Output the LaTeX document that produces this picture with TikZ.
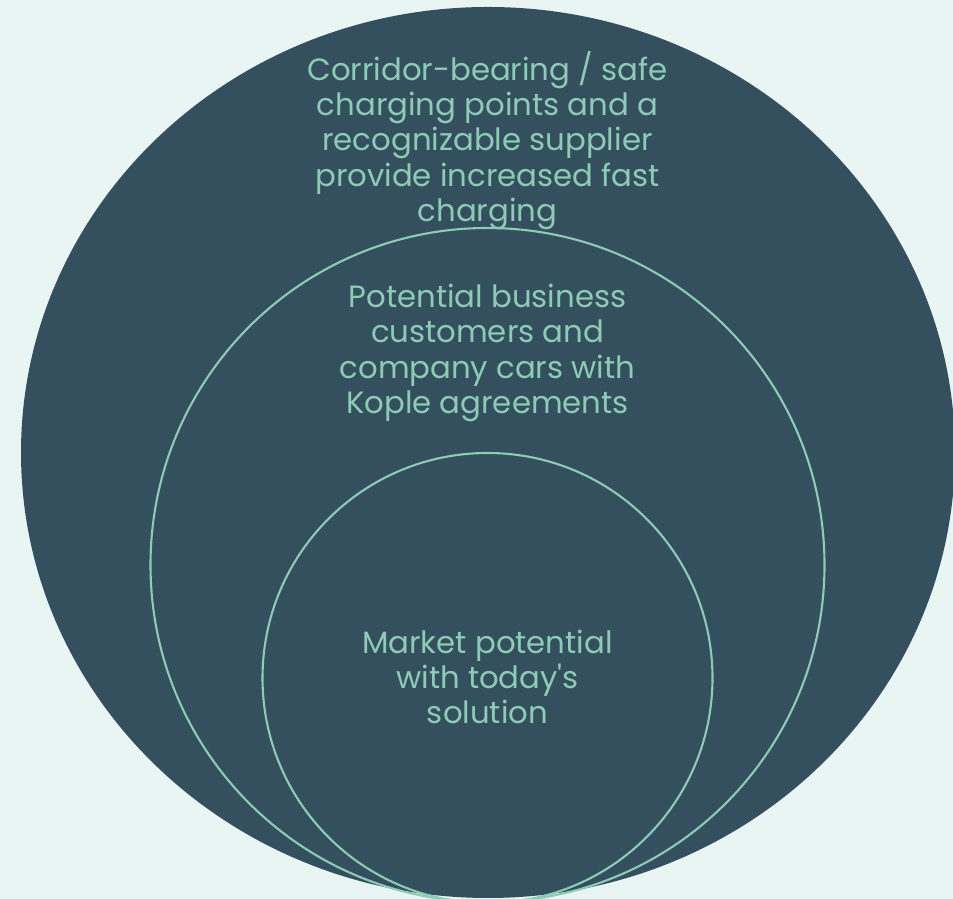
\documentclass[tikz,border=0pt]{standalone}
\usepackage{fontspec}
\setmainfont{Poppins}
\usepackage{tikz}
\usetikzlibrary{positioning}
\definecolor{BG}{RGB}{232, 245, 243}
\definecolor{SL}{RGB}{52, 80, 94}
\definecolor{MT}{RGB}{140, 203, 180}
\tikzset{
    ring/.style={draw=MT, line width=0.6pt},
    label/.style={text=MT, align=center, font=\fontsize{8.75}{10.04}\selectfont, inner sep=0pt},
}

\begin{document}
\begin{tikzpicture}
% page and background
\useasboundingbox (0,0) rectangle (9.53,-8.99);
\fill[BG] (0,0) rectangle (9.53,-8.99);

% three nested rings, touching at the bottom
\fill[SL] (4.88,-4.525) ellipse [x radius=4.67, y radius=4.455];
\draw[ring] (4.875,-5.65) circle (3.37);
\draw[ring] (4.875,-6.78) circle (2.25);

\node[label] (outertxt) at (4.875,-1.405) {Corridor-bearing / safe\\charging points and a\\recognizable supplier\\provide increased fast\\charging};
\node[label] (middletxt) at (4.875,-3.53) {Potential business\\customers and\\company cars with\\Kople agreements};
\node[label] (innertxt) at (4.875,-6.77) {Market potential\\with today\textquotesingle s\\solution};

\end{tikzpicture}
\end{document}
